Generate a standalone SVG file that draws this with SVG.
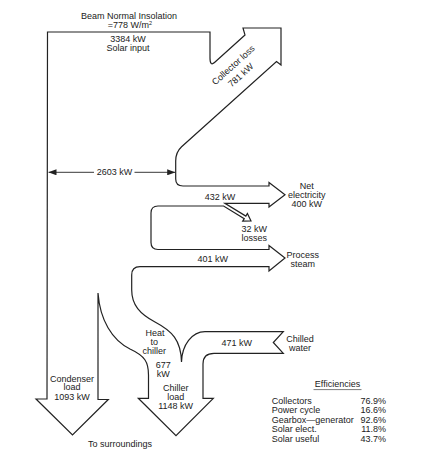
<svg xmlns="http://www.w3.org/2000/svg" width="432" height="453" viewBox="0 0 432 453">
<defs>
<style>
text{font-family:"Liberation Sans",Arial,sans-serif;font-size:9px;fill:#222}
.c{text-anchor:middle}
.r{text-anchor:end}
.flow{fill:none;stroke:#222;stroke-width:1.2;stroke-linejoin:miter}
.dim{fill:none;stroke:#222;stroke-width:0.9}
</style>
<marker id="ah" viewBox="0 0 8 6" refX="8" refY="3" markerWidth="8" markerHeight="6" markerUnits="userSpaceOnUse" orient="auto-start-reverse">
<path d="M0,0 L8,3 L0,6 Z" fill="#222"/>
</marker>
</defs>
<rect width="432" height="453" fill="#fff"/>
<g id="connectors">
<path class="flow" d="M 98,293 L 98,399.5 L 108.3,399.5 L 72.5,435 L 36,399 L 47,399 L 47.5,32 L 210,32 L 210,58 Q 210,66.5 214.5,62.5 L 245,35 L 243,28 L 281,28 L 281,65 L 276.5,61.5 L 181.6,146.8 Q 175.7,152.2 175.7,161 L 175.7,179 Q 175.7,186 183,186 L 269,186 L 269,182.5 L 285,194.7 L 269,207 L 269,203.3 L 224.9,203.3 L 245.83,216.08 L 247.4,213.5 L 251,221 L 242.7,221.2 L 244.27,218.64 L 223.6,206 L 158,206 Q 151,206 151,213 L 151,242.5 Q 151,249.5 158,249.5 L 269,249.5 L 269,245.5 L 285,258 L 269,271 L 269,266.7 L 140,266.7 Q 131.7,266.7 131.7,275 L 131.7,290 C 131.7,305 140,314 155,322 C 172,331 181,340 181.5,362 C 182,345 192,331.7 205,331.7 L 283.3,331.7 L 273.3,342.5 L 283.3,353.3 L 214,353.3 Q 203,353.3 203,364 L 203,398.3 L 213.3,398.3 L 176,435.7 L 138.3,398.3 L 148.5,398.3 L 148.5,375 C 148.5,362 145,356 130,349 C 112,340 100,320 98,293 Z"/>
<path class="dim" d="M 94,172.3 L 48.5,172.3" marker-end="url(#ah)"/>
<path class="dim" d="M 134.5,172.3 L 175.2,172.3" marker-end="url(#ah)"/>
</g>
<g id="solar-input">
<text class="c" x="129" y="18.5">Beam Normal Insolation</text>
<text class="c" x="130" y="28.3">=778 W/m<tspan font-size="5.5" dy="-3.5">2</tspan></text>
<text class="c" x="128" y="41.7">3384 kW</text>
<text class="c" x="128" y="50.7">Solar input</text>
</g>
<g id="collector-loss">
<text class="c" transform="translate(235.4,67.4) rotate(-42)">Collector loss</text>
<text class="c" transform="translate(242.8,77.4) rotate(-42)">781 kW</text>
</g>
<g id="power-cycle-input">
<text class="c" x="114.5" y="175.3">2603 kW</text>
</g>
<g id="net-electricity">
<text class="c" x="220" y="200">432 kW</text>
<text class="c" x="306.7" y="189">Net</text>
<text class="c" x="306.7" y="197.5">electricity</text>
<text class="c" x="306.7" y="206.5">400 kW</text>
</g>
<g id="losses">
<text class="c" x="254.3" y="231.7">32 kW</text>
<text class="c" x="254.3" y="240.7">losses</text>
</g>
<g id="process-steam">
<text class="c" x="212.7" y="261.7">401 kW</text>
<text class="c" x="302.7" y="258.3">Process</text>
<text class="c" x="302.7" y="267.3">steam</text>
</g>
<g id="heat-to-chiller">
<text class="c" x="155" y="336">Heat</text>
<text class="c" x="154.3" y="345.3">to</text>
<text class="c" x="154.3" y="354">chiller</text>
<text class="c" x="163.3" y="368.3">677</text>
<text class="c" x="163.3" y="377">kW</text>
</g>
<g id="chilled-water">
<text class="c" x="236.7" y="345.7">471 kW</text>
<text class="c" x="300" y="342.3">Chilled</text>
<text class="c" x="300" y="351">water</text>
</g>
<g id="chiller-load">
<text class="c" x="175.7" y="391">Chiller</text>
<text class="c" x="175.7" y="399.7">load</text>
<text class="c" x="175.7" y="409">1148 kW</text>
</g>
<g id="condenser-load">
<text class="c" x="72" y="381.7">Condenser</text>
<text class="c" x="72" y="390.3">load</text>
<text class="c" x="72" y="399.7">1093 kW</text>
</g>
<g id="surroundings">
<text class="c" x="120" y="447">To surroundings</text>
</g>
<g id="efficiencies">
<text class="c" x="337.5" y="387.3">Efficiencies</text>
<line x1="313.5" y1="389.6" x2="361.5" y2="389.6" stroke="#222" stroke-width="0.6"/>
<text x="271.7" y="404">Collectors</text>
<text x="271.7" y="413.4">Power cycle</text>
<text x="271.7" y="422.8">Gearbox—generator</text>
<text x="271.7" y="432.2">Solar elect.</text>
<text x="271.7" y="441.6">Solar useful</text>
<text class="r" x="386" y="404">76.9%</text>
<text class="r" x="386" y="413.4">16.6%</text>
<text class="r" x="386" y="422.8">92.6%</text>
<text class="r" x="386" y="432.2">11.8%</text>
<text class="r" x="386" y="441.6">43.7%</text>
</g>
</svg>
